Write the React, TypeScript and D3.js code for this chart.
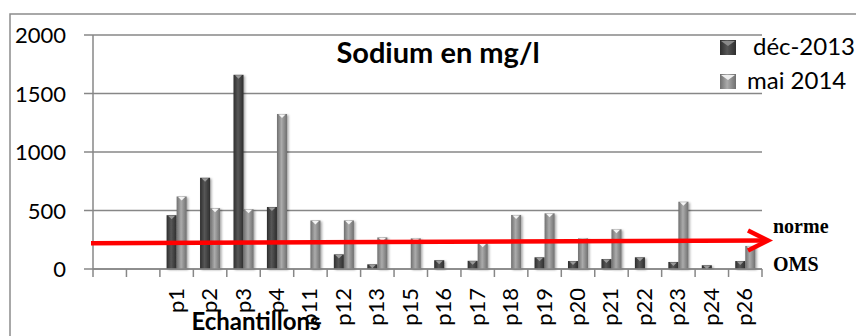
import { useEffect, useRef } from "react";
import * as d3 from "d3";

// sample points (two leading empty slots as in the original sheet)
const categories = ["", "", "p1", "p2", "p3", "p4", "p11", "p12", "p13", "p15", "p16", "p17", "p18", "p19", "p20", "p21", "p22", "p23", "p24", "p26"];
const seriesNames = ["déc-2013", "mai 2014"];
const dec2013 = [0, 0, 460, 780, 1660, 530, 0, 125, 40, 0, 75, 70, 0, 100, 68, 85, 100, 60, 32, 68];
const mai2014 = [0, 0, 620, 520, 510, 1325, 415, 415, 270, 262, 0, 220, 462, 476, 262, 339, 0, 575, 0, 197];
const yTicks = [0, 500, 1000, 1500, 2000];
// hand drawn "norme OMS" arrow, value at left and right end
const normeOMS = [220, 243];

const W = 856;
const H = 336;

export default function App() {
  const svgRef = useRef<SVGSVGElement>(null);

  useEffect(() => {
    if (!svgRef.current) return;
    const svg = d3.select(svgRef.current);
    svg.selectAll("*").remove();

    const plot = { left: 93, right: 762, top: 35, bottom: 269 };
    const grid = "#878787";
    const font = "Lato, 'Open Sans', sans-serif";

    const x = d3.scaleBand<number>()
      .domain(d3.range(categories.length))
      .range([plot.left, plot.right])
      .paddingInner(0.4)
      .paddingOuter(0.2);
    const step = x.step();
    const xs = d3.scaleBand<number>().domain([0, 1]).range([0, x.bandwidth()]);
    const y = d3.scaleLinear().domain([0, 2000]).range([plot.bottom, plot.top]);

    // gradients
    const defs = svg.append("defs");
    const grad = (id: string, edge: string, mid: string) => {
      const g = defs.append("linearGradient").attr("id", id).attr("x1", 0).attr("x2", 1).attr("y1", 0).attr("y2", 0);
      g.append("stop").attr("offset", "0%").attr("stop-color", edge);
      g.append("stop").attr("offset", "45%").attr("stop-color", mid);
      g.append("stop").attr("offset", "100%").attr("stop-color", edge);
    };
    grad("gDark", "#2e2e2e", "#575757");
    grad("gLight", "#6f6f6f", "#ababab");
    const f = defs.append("filter").attr("id", "shadow").attr("x", "-50%").attr("y", "-10%").attr("width", "200%").attr("height", "130%");
    f.append("feDropShadow").attr("dx", 1.5).attr("dy", 1).attr("stdDeviation", 1).attr("flood-color", "#000").attr("flood-opacity", 0.35);

    // outer frame
    svg.append("rect")
      .attr("x", 10).attr("y", 14).attr("width", W).attr("height", H)
      .attr("fill", "none").attr("stroke", "#8c8c8c").attr("stroke-width", 1.5);

    // gridlines + y labels
    svg.append("g").selectAll("line").data(yTicks).join("line")
      .attr("x1", plot.left - 9).attr("x2", plot.right)
      .attr("y1", d => y(d)).attr("y2", d => y(d))
      .attr("stroke", grid).attr("stroke-width", 1.5);
    svg.append("g").selectAll("text").data(yTicks).join("text")
      .attr("x", 66).attr("y", d => y(d) + 8)
      .attr("text-anchor", "end")
      .attr("font-family", font).attr("font-size", 22)
      .text(d => d);

    // y axis line
    svg.append("line")
      .attr("x1", plot.left).attr("x2", plot.left)
      .attr("y1", plot.top).attr("y2", plot.bottom)
      .attr("stroke", grid).attr("stroke-width", 1.5);

    // x ticks
    svg.append("g").selectAll("line").data(d3.range(categories.length + 1)).join("line")
      .attr("x1", i => plot.left + i * step).attr("x2", i => plot.left + i * step)
      .attr("y1", plot.bottom).attr("y2", plot.bottom + 8)
      .attr("stroke", grid).attr("stroke-width", 1.5);

    // bars
    const bars = svg.append("g");
    [dec2013, mai2014].forEach((vals, s) => {
      const w = xs.bandwidth();
      const data = vals.map((v, i) => ({ v, i })).filter(d => d.v > 0);
      const g = bars.append("g");
      g.selectAll("rect").data(data).join("rect")
        .attr("x", d => (x(d.i) as number) + (xs(s) as number))
        .attr("y", d => y(d.v))
        .attr("width", w)
        .attr("height", d => plot.bottom - y(d.v))
        .attr("fill", s === 0 ? "url(#gDark)" : "url(#gLight)")
        .attr("filter", "url(#shadow)");
      // little bevel on top of the cylinders
      g.selectAll("path").data(data).join("path")
        .attr("d", d => {
          const x0 = (x(d.i) as number) + (xs(s) as number);
          const t = y(d.v);
          return `M${x0 + 1.5},${t + 0.5}L${x0 + w - 1.5},${t + 0.5}L${x0 + w / 2},${t + 4}Z`;
        })
        .attr("fill", s === 0 ? "#9a9a9a" : "#f4f4f4");
    });

    // x axis line over the bars
    svg.append("line")
      .attr("x1", plot.left).attr("x2", plot.right)
      .attr("y1", plot.bottom).attr("y2", plot.bottom)
      .attr("stroke", grid).attr("stroke-width", 1.5);

    // x labels, rotated
    svg.append("g").selectAll("text").data(categories).join("text")
      .attr("transform", (_, i) => `translate(${(x(i) as number) + x.bandwidth() / 2 + 7},288) rotate(-90)`)
      .attr("text-anchor", "end")
      .attr("font-family", font).attr("font-size", 22)
      .text(d => d);

    // axis title
    svg.append("text")
      .attr("x", 256).attr("y", 330)
      .attr("text-anchor", "middle")
      .attr("font-family", font).attr("font-size", 24).attr("font-weight", 700)
      .text("Echantillons");

    // chart title
    svg.append("text")
      .attr("x", 438).attr("y", 63)
      .attr("text-anchor", "middle")
      .attr("font-family", font).attr("font-size", 29).attr("font-weight", 700)
      .text("Sodium en mg/l");

    // legend
    const legend = svg.append("g");
    seriesNames.forEach((name, s) => {
      const ly = 40 + s * 34;
      legend.append("rect")
        .attr("x", 720).attr("y", ly).attr("width", 16).attr("height", 15)
        .attr("fill", s === 0 ? "url(#gDark)" : "url(#gLight)");
      legend.append("path")
        .attr("d", `M721,${ly + 1}L735,${ly + 1}L728,${ly + 6}Z`)
        .attr("fill", s === 0 ? "#8a8a8a" : "#eeeeee");
      legend.append("text")
        .attr("x", s === 0 ? 753 : 747).attr("y", ly + 15)
        .attr("font-family", font).attr("font-size", 24)
        .text(name);
    });

    // norme OMS arrow
    const tipX = plot.right + 6;
    const y0 = y(normeOMS[0]);
    const y1 = y(normeOMS[1]);
    svg.append("line")
      .attr("x1", plot.left - 2).attr("x2", tipX - 2)
      .attr("y1", y0).attr("y2", y1)
      .attr("stroke", "#ff0000").attr("stroke-width", 4.5);
    svg.append("path")
      .attr("d", `M${tipX - 20},${y1 - 10}L${tipX},${y1}L${tipX - 20},${y1 + 10}`)
      .attr("fill", "none").attr("stroke", "#ff0000").attr("stroke-width", 4.5)
      .attr("stroke-linejoin", "miter");
    svg.append("text")
      .attr("x", 773).attr("y", 233)
      .attr("font-family", "'Liberation Serif', 'Times New Roman', serif")
      .attr("font-weight", 700).attr("font-size", 20)
      .text("norme");
    svg.append("text")
      .attr("x", 773).attr("y", 271)
      .attr("font-family", "'Liberation Serif', 'Times New Roman', serif")
      .attr("font-weight", 700).attr("font-size", 20)
      .text("OMS");
  }, []);

  return (
    <div style={{ position: "fixed", left: 0, top: 0, width: W, height: H, background: "#fff" }}>
      <svg ref={svgRef} width={W} height={H} style={{ display: "block" }}></svg>
    </div>
  );
}
